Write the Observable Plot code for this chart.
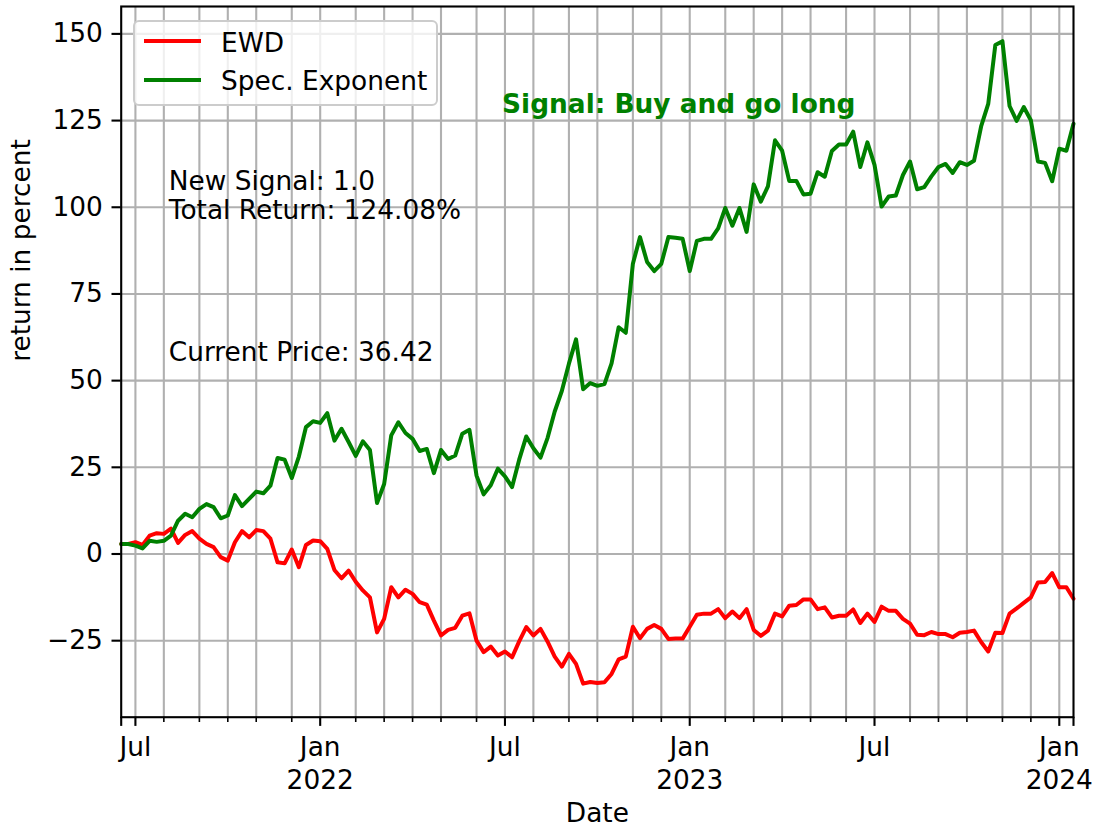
<!DOCTYPE html>
<html>
<head>
<meta charset="utf-8">
<script src="https://cdn.jsdelivr.net/npm/d3@7"></script>
<script src="https://cdn.jsdelivr.net/npm/@observablehq/plot@0.6"></script>
<style>
  html, body { margin: 0; padding: 0; background: #fff; overflow: hidden; }
  #wrap { position: relative; width: 1095px; height: 829px; font-family: "DejaVu Sans", sans-serif; }
  #wrap svg { position: absolute; left: 0; top: 0; }
  .legend { position: absolute; left: 133px; top: 20px; width: 305px; height: 86px; box-sizing: border-box;
            border: 2px solid #cccccc; border-radius: 6px; background: rgba(255,255,255,0.8); }
  .legend .sw { position: absolute; height: 4px; width: 57px; left: 9px; }
  .legend .lb { position: absolute; left: 86px; font-size: 26.4px; line-height: 26.4px; color: #000; white-space: nowrap; }
</style>
</head>
<body>
<div id="wrap"></div>
<script>
// ---- data (weekly, Monday dates starting at startDate) ----
const startDate = "2021-06-21";
const ewdValues = [
  2.9, 2.9, 3.4, 2.6, 5.3, 6.0, 5.8, 7.3, 3.2, 5.5,
  6.6, 4.4, 2.9, 2.0, -0.9, -1.9, 3.4, 6.6, 4.8, 6.9,
  6.6, 4.4, -2.4, -2.7, 1.3, -3.8, 2.6, 3.9, 3.7, 1.5,
  -4.6, -7.0, -4.8, -8.0, -10.5, -12.5, -22.6, -18.7, -9.6, -12.5,
  -10.3, -11.5, -13.9, -14.6, -19.2, -23.5, -21.9, -21.3, -17.8, -17.1,
  -25.0, -28.3, -26.7, -29.3, -28.1, -29.8, -25.2, -21.1, -23.5, -21.6,
  -25.3, -29.6, -32.5, -28.8, -31.7, -37.4, -36.9, -37.2, -37.0, -34.6,
  -30.4, -29.6, -21.0, -24.3, -21.6, -20.5, -21.6, -24.5, -24.4, -24.4,
  -21.0, -17.5, -17.2, -17.2, -15.9, -18.5, -16.6, -18.5, -15.9, -21.9,
  -23.6, -22.1, -17.2, -18.0, -14.9, -14.7, -13.1, -13.1, -15.9, -15.4,
  -18.3, -17.8, -17.8, -16.0, -19.9, -17.2, -19.6, -15.2, -16.4, -16.4,
  -18.7, -20.1, -23.3, -23.4, -22.5, -23.1, -23.1, -24.0, -22.7, -22.5,
  -22.1, -25.4, -28.1, -22.7, -22.8, -17.2, -15.7, -14.1, -12.5, -8.2,
  -8.1, -5.5, -9.6, -9.6, -12.9
];
const specValues = [
  2.9, 2.9, 2.4, 1.6, 3.8, 3.5, 3.8, 5.3, 9.6, 11.6,
  10.6, 13.0, 14.4, 13.5, 10.3, 11.1, 17.0, 13.8, 15.9, 18.0,
  17.5, 19.7, 27.7, 27.2, 21.9, 28.1, 36.6, 38.3, 37.8, 40.6,
  32.7, 36.1, 32.3, 28.3, 32.5, 30.0, 14.7, 20.2, 34.2, 38.0,
  34.9, 33.2, 29.7, 30.3, 23.3, 30.0, 27.4, 28.4, 34.7, 35.8,
  22.6, 17.2, 19.8, 24.6, 22.4, 19.3, 27.2, 33.9, 30.5, 27.8,
  33.5, 41.1, 47.0, 54.9, 61.9, 47.5, 49.3, 48.5, 49.0, 55.0,
  65.4, 63.8, 83.7, 91.4, 84.2, 81.6, 83.7, 91.4, 91.2, 90.9,
  81.6, 90.3, 90.9, 90.9, 93.9, 99.8, 94.7, 99.8, 92.9, 106.6,
  101.6, 106.0, 119.3, 116.3, 107.6, 107.6, 103.7, 103.9, 110.1, 108.8,
  116.2, 118.1, 118.1, 121.8, 111.6, 118.7, 112.2, 100.2, 103.1, 103.4,
  109.3, 113.2, 105.2, 105.8, 108.9, 111.6, 112.5, 109.9, 113.0, 112.2,
  113.4, 123.3, 129.8, 146.8, 147.9, 129.2, 124.9, 128.9, 125.1, 113.2,
  112.8, 107.5, 116.9, 116.3, 124.08
];
const seriesNames = ["EWD", "Spec. Exponent"];
const seriesColors = ["red", "green"];

// month ticks (first weekly period of each month)
const monthTicks = [
  "2021-07-05","2021-08-02","2021-09-06","2021-10-04","2021-11-01","2021-12-06",
  "2022-01-03","2022-02-07","2022-03-07","2022-04-04","2022-05-02","2022-06-06",
  "2022-07-04","2022-08-01","2022-09-05","2022-10-03","2022-11-07","2022-12-05",
  "2023-01-02","2023-02-06","2023-03-06","2023-04-03","2023-05-01","2023-06-05",
  "2023-07-03","2023-08-07","2023-09-04","2023-10-02","2023-11-06","2023-12-04",
  "2024-01-01"
];
const majorTicks = ["2021-07-05","2022-01-03","2022-07-04","2023-01-02","2023-07-03","2024-01-01"];
const majorLabels = ["Jul","Jan\n2022","Jul","Jan\n2023","Jul","Jan\n2024"];
const yTicks = [-25, 0, 25, 50, 75, 100, 125, 150];
const yDomain = [-47.07, 157.9];

const signalText = "Signal: Buy and go long";
const statsText = "New Signal: 1.0\nTotal Return: 124.08%";
const priceText = "Current Price: 36.42";
const xLabel = "Date";
const yLabel = "return in percent";

// ---- build ----
const start = new Date(startDate);
const dates = ewdValues.map((_, i) => d3.utcDay.offset(start, 7 * i));
const rows = [];
[ewdValues, specValues].forEach((vals, s) => vals.forEach((v, i) => rows.push({date: dates[i], value: v, series: seriesNames[s]})));

const toDate = s => new Date(s);
const majorDates = majorTicks.map(toDate);
const majorSet = new Set(majorDates.map(d => +d));
const minorDates = monthTicks.map(toDate).filter(d => !majorSet.has(+d));
const labelMap = new Map(majorDates.map((d, i) => [+d, majorLabels[i]]));
const edgeDates = [dates[0], dates[dates.length - 1]];
const fmtY = d => d < 0 ? "\u2212" + Math.abs(d) : String(d);

const FS = 26.4;
const chart = Plot.plot({
  width: 1095,
  height: 829,
  marginLeft: 120.7,
  marginRight: 22,
  marginTop: 6,
  marginBottom: 112.3,
  style: {fontFamily: "DejaVu Sans", fontSize: FS + "px", background: "white", color: "black"},
  x: {type: "utc", domain: [dates[0], dates[dates.length - 1]], label: null},
  y: {domain: yDomain, label: null},
  color: {domain: seriesNames, range: seriesColors},
  marks: [
    Plot.gridX(monthTicks.map(toDate), {stroke: "#b0b0b0", strokeOpacity: 1, strokeWidth: 2.1}),
    Plot.gridY(yTicks, {stroke: "#b0b0b0", strokeOpacity: 1, strokeWidth: 2.1}),
    Plot.lineY(rows, {x: "date", y: "value", z: "series", stroke: "series", strokeWidth: 4, strokeLinejoin: "round"}),
    Plot.frame({stroke: "black", strokeWidth: 2.1}),
    Plot.axisY(yTicks, {tickSize: 9.2, tickPadding: 9.2, strokeWidth: 2.1, tickFormat: fmtY, label: null, fontSize: FS}),
    Plot.axisX(minorDates, {tickSize: 5.3, strokeWidth: 1.6, tickFormat: () => "", label: null}),
    Plot.axisX(edgeDates, {tickSize: 9.2, strokeWidth: 2.1, tickFormat: () => "", label: null}),
    Plot.axisX(majorDates, {tickSize: 9.2, tickPadding: 6.8, strokeWidth: 2.1, tickFormat: d => labelMap.get(+d), lineHeight: 1.23, label: null, fontSize: FS}),
    Plot.text([signalText], {frameAnchor: "top-left", dx: 380.9, dy: 88, lineAnchor: "top", textAnchor: "start", fill: "green", fontWeight: "bold", fontSize: FS}),
    Plot.text([statsText], {frameAnchor: "top-left", dx: 47.6, dy: 162.6, lineAnchor: "top", textAnchor: "start", fill: "black", fontSize: FS, lineHeight: 1.11}),
    Plot.text([priceText], {frameAnchor: "top-left", dx: 47.6, dy: 335.9, lineAnchor: "top", textAnchor: "start", fill: "black", fontSize: FS}),
    Plot.text([xLabel], {frameAnchor: "bottom", dy: 104.5, fill: "black", fontSize: FS}),
    Plot.text([yLabel], {frameAnchor: "left", dx: -99.3, rotate: -90, fill: "black", fontSize: FS})
  ]
});

const wrap = document.getElementById("wrap");
wrap.appendChild(chart);

// legend (inside the axes, upper left)
const legend = document.createElement("div");
legend.className = "legend";
const legendTops = [{line: 19.3, text: 7.5}, {line: 58, text: 46.3}];
seriesNames.forEach((name, i) => {
  const sw = document.createElement("div");
  sw.className = "sw";
  sw.style.top = (legendTops[i].line - 2) + "px";
  sw.style.background = seriesColors[i];
  legend.appendChild(sw);
  const lb = document.createElement("div");
  lb.className = "lb";
  lb.style.top = legendTops[i].text + "px";
  lb.textContent = name;
  legend.appendChild(lb);
});
wrap.appendChild(legend);
</script>
</body>
</html>
